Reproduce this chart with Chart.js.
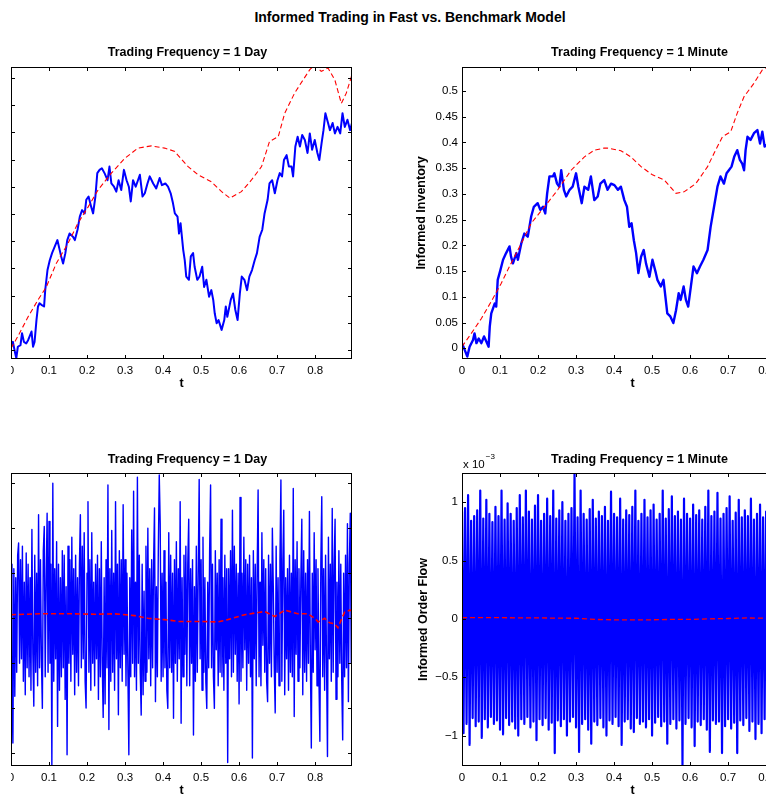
<!DOCTYPE html>
<html>
<head>
<meta charset="utf-8">
<script src="https://cdn.jsdelivr.net/npm/chart.js@4.4.1/dist/chart.umd.min.js"></script>
<style>
html, body { margin: 0; padding: 0; background: #fff; overflow: hidden; width: 766px; height: 797px; }
body { position: relative; font-family: "Liberation Sans", Arial, sans-serif; }
canvas { position: absolute; }
.clip { position: absolute; overflow: hidden; }
#mainTitle { position: absolute; left: 0; width: 820px; top: 9px; line-height: 16px; text-align: center; font-weight: bold; font-size: 14px; }
</style>
</head>
<body>
<div id="mainTitle">Informed Trading in Fast vs. Benchmark Model</div>
<div class="clip" style="left:11px; top:22px; width:420px; height:371px">
  <canvas id="invDayChart" width="416" height="371" style="left:-60px; top:0"></canvas>
</div>
<canvas id="invMinChart" width="416" height="371" style="left:402px; top:22px"></canvas>
<div class="clip" style="left:11px; top:428px; width:420px; height:372px">
  <canvas id="flowDayChart" width="416" height="372" style="left:-60px; top:0"></canvas>
</div>
<canvas id="flowMinChart" width="416" height="372" style="left:402px; top:428px"></canvas>
<script>
// tick labels
const tTicks = [0, 0.1, 0.2, 0.3, 0.4, 0.5, 0.6, 0.7, 0.8];
const invTicks = [0, 0.05, 0.1, 0.15, 0.2, 0.25, 0.3, 0.35, 0.4, 0.45, 0.5];
const flowTicks = [-1, -0.5, 0, 0.5, 1];
const dayFlowTicks = [-3, -2, -1, 0, 1, 2, 3];

// informed inventory, 1 day trading (fast model, blue)
const tInvDay = [
  0.000, 0.005, 0.011, 0.014, 0.018, 0.025, 0.029, 0.034, 0.040, 0.045,
  0.049, 0.054, 0.058, 0.062, 0.067, 0.071, 0.075, 0.080, 0.087, 0.090,
  0.096, 0.102, 0.108, 0.115, 0.122, 0.128, 0.132, 0.137, 0.143, 0.148,
  0.154, 0.163, 0.168, 0.175, 0.181, 0.187, 0.194, 0.198, 0.204, 0.211,
  0.216, 0.222, 0.227, 0.233, 0.239, 0.246, 0.254, 0.259, 0.264, 0.271,
  0.277, 0.283, 0.290, 0.297, 0.304, 0.310, 0.315, 0.321, 0.328, 0.334,
  0.339, 0.346, 0.352, 0.359, 0.365, 0.374, 0.382, 0.391, 0.397, 0.406,
  0.413, 0.420, 0.426, 0.431, 0.438, 0.442, 0.446, 0.453, 0.457, 0.461,
  0.468, 0.473, 0.479, 0.483, 0.490, 0.496, 0.503, 0.508, 0.514, 0.521,
  0.527, 0.532, 0.536, 0.541, 0.546, 0.554, 0.561, 0.565, 0.569, 0.578,
  0.584, 0.590, 0.596, 0.602, 0.607, 0.614, 0.621, 0.627, 0.634, 0.641,
  0.647, 0.654, 0.661, 0.667, 0.675, 0.680, 0.687, 0.694, 0.701, 0.707,
  0.713, 0.718, 0.725, 0.731, 0.738, 0.742, 0.748, 0.754, 0.760, 0.766,
  0.773, 0.780, 0.786, 0.792, 0.799, 0.806, 0.811, 0.817, 0.822, 0.827,
  0.834, 0.839, 0.846, 0.852, 0.859, 0.866, 0.872, 0.878, 0.885, 0.892,
  0.897
];
const invDay = [
  0.009, 0.015, -0.006, -0.015, 0.006, 0.009, 0.031, 0.015, 0.012, 0.018,
  0.025, 0.034, 0.006, 0.015, 0.055, 0.080, 0.086, 0.083, 0.080, 0.110,
  0.147, 0.165, 0.178, 0.190, 0.202, 0.184, 0.172, 0.159, 0.178, 0.202,
  0.214, 0.208, 0.202, 0.221, 0.245, 0.257, 0.251, 0.276, 0.282, 0.263,
  0.251, 0.282, 0.325, 0.331, 0.334, 0.325, 0.312, 0.337, 0.306, 0.300,
  0.291, 0.312, 0.294, 0.331, 0.312, 0.300, 0.273, 0.312, 0.300, 0.312,
  0.322, 0.282, 0.288, 0.306, 0.319, 0.306, 0.297, 0.316, 0.303, 0.306,
  0.300, 0.288, 0.270, 0.251, 0.245, 0.214, 0.233, 0.184, 0.165, 0.135,
  0.129, 0.172, 0.178, 0.153, 0.129, 0.135, 0.153, 0.116, 0.129, 0.098,
  0.110, 0.092, 0.067, 0.049, 0.055, 0.037, 0.055, 0.080, 0.061, 0.092,
  0.104, 0.074, 0.055, 0.104, 0.135, 0.129, 0.110, 0.135, 0.147, 0.165,
  0.178, 0.208, 0.221, 0.251, 0.276, 0.306, 0.312, 0.288, 0.312, 0.325,
  0.319, 0.349, 0.358, 0.337, 0.337, 0.319, 0.374, 0.392, 0.374, 0.395,
  0.386, 0.362, 0.398, 0.368, 0.386, 0.362, 0.349, 0.380, 0.404, 0.435,
  0.417, 0.404, 0.417, 0.398, 0.410, 0.398, 0.435, 0.410, 0.423, 0.404,
  0.417
];
// benchmark model, 1 day (red dashed)
const tBenchInvDay = [0, 0.018, 0.045, 0.071, 0.093, 0.119, 0.15, 0.176, 0.203, 0.229, 0.264, 0.299, 0.334, 0.369, 0.404, 0.431, 0.439, 0.466, 0.492, 0.527, 0.554, 0.576, 0.606, 0.632, 0.659, 0.68, 0.703, 0.72, 0.746, 0.768, 0.786, 0.799, 0.816, 0.834, 0.852, 0.869, 0.882, 0.897];
const benchInvDay = [0.003, 0.025, 0.061, 0.092, 0.116, 0.159, 0.196, 0.233, 0.263, 0.294, 0.325, 0.352, 0.371, 0.375, 0.371, 0.365, 0.358, 0.337, 0.322, 0.309, 0.291, 0.279, 0.291, 0.312, 0.337, 0.383, 0.392, 0.435, 0.472, 0.496, 0.515, 0.524, 0.512, 0.518, 0.496, 0.453, 0.472, 0.506];

// informed inventory, 1 minute trading
const tInvMin = [
  0, 0.007, 0.014, 0.020, 0.029, 0.033, 0.038, 0.044, 0.051, 0.058,
  0.064, 0.070, 0.073, 0.077, 0.086, 0.090, 0.094, 0.101, 0.108, 0.116,
  0.125, 0.129, 0.134, 0.143, 0.147, 0.156, 0.164, 0.173, 0.182, 0.189,
  0.199, 0.206, 0.213, 0.219, 0.224, 0.230, 0.239, 0.243, 0.250, 0.256,
  0.261, 0.268, 0.274, 0.283, 0.291, 0.300, 0.306, 0.315, 0.322, 0.332,
  0.339, 0.348, 0.357, 0.364, 0.374, 0.383, 0.392, 0.401, 0.410, 0.418,
  0.427, 0.434, 0.440, 0.446, 0.452, 0.458, 0.464, 0.471, 0.478, 0.484,
  0.493, 0.501, 0.510, 0.514, 0.523, 0.530, 0.536, 0.540, 0.548, 0.556,
  0.563, 0.570, 0.575, 0.583, 0.589, 0.595, 0.602, 0.609, 0.618, 0.626,
  0.635, 0.646, 0.654, 0.663, 0.672, 0.680, 0.689, 0.696, 0.702, 0.709,
  0.716, 0.724, 0.731, 0.737, 0.742, 0.746, 0.751, 0.759, 0.768, 0.777,
  0.784, 0.790, 0.796, 0.81, 0.83, 0.85, 0.87, 0.89
];
const invMin = [
  0.010, -0.003, -0.016, 0.003, 0.016, 0.029, 0.010, 0.019, 0.010, 0.023,
  0.013, 0.003, 0.042, 0.068, 0.087, 0.081, 0.133, 0.152, 0.172, 0.185,
  0.198, 0.178, 0.165, 0.185, 0.172, 0.204, 0.223, 0.217, 0.256, 0.275,
  0.282, 0.269, 0.275, 0.262, 0.301, 0.334, 0.334, 0.340, 0.320, 0.314,
  0.346, 0.308, 0.295, 0.308, 0.314, 0.340, 0.314, 0.282, 0.314, 0.308,
  0.334, 0.288, 0.295, 0.320, 0.327, 0.308, 0.320, 0.317, 0.308, 0.314,
  0.288, 0.275, 0.236, 0.243, 0.210, 0.185, 0.146, 0.178, 0.191, 0.165,
  0.139, 0.172, 0.146, 0.133, 0.120, 0.133, 0.094, 0.068, 0.062, 0.049,
  0.074, 0.107, 0.094, 0.120, 0.094, 0.081, 0.120, 0.159, 0.146, 0.159,
  0.172, 0.191, 0.236, 0.275, 0.314, 0.334, 0.320, 0.340, 0.346, 0.353,
  0.372, 0.385, 0.366, 0.359, 0.346, 0.385, 0.411, 0.405, 0.418, 0.424,
  0.398, 0.421, 0.392, 0.40, 0.44, 0.42, 0.45, 0.43
];
const tBenchInvMin = [0, 0.0245, 0.051, 0.077, 0.103, 0.129, 0.156, 0.182, 0.217, 0.252, 0.287, 0.322, 0.348, 0.374, 0.383, 0.418, 0.444, 0.471, 0.501, 0.532, 0.563, 0.584, 0.615, 0.646, 0.663, 0.685, 0.707, 0.724, 0.742, 0.768, 0.79, 0.81, 0.84, 0.87, 0.897];
const benchInvMin = [0.003, 0.029, 0.058, 0.091, 0.126, 0.165, 0.204, 0.243, 0.275, 0.308, 0.346, 0.372, 0.385, 0.389, 0.389, 0.384, 0.372, 0.353, 0.337, 0.327, 0.301, 0.304, 0.32, 0.353, 0.379, 0.411, 0.421, 0.457, 0.489, 0.515, 0.541, 0.55, 0.53, 0.49, 0.53];

// informed order flow, 1 day trading, read at ~1 px steps
const dtDay = 0.0025;
const flowDay = [
  1.2, -1.5, -2.77, 1.1, -1.73, 0.9, -1.2, 1.4, 1.67, -1.0,
  1.3, -0.9, 1.6, -1.4, 0.8, -1.7, 1.45, -1.1, 1.2, -1.3,
  0.9, -1.6, 1.97, -0.8, -1.95, 1.4, -1.2, 1.0, -1.5, 2.3,
  -1.1, 1.3, -0.9, -2.0, 1.5, 2.04, -1.3, 0.8, 2.33, -1.2,
  2.15, -1.0, 1.2, -3.28, 3.0, -1.4, 1.1, -0.9, 1.7, -2.4,
  1.2, -1.6, 0.9, -1.3, 1.5, -1.1, 1.4, -1.8, 0.7, -3.03,
  1.6, -1.0, 1.3, -1.4, 1.8, -0.8, 1.1, -1.7, 1.4, -1.2,
  0.9, -1.5, 1.2, 2.3, -1.1, 1.6, -0.9, 1.9, -1.4, -1.99,
  1.0, 2.59, -1.2, 1.3, -1.6, 1.9, -1.0, 0.8, -1.5, 1.2,
  -0.9, 1.4, -1.8, 1.1, -1.3, 1.7, -1.0, -2.2, 0.9, -1.9,
  1.3, -1.1, 2.96, -2.47, 1.1, -1.4, 1.95, -1.2, 1.0, -1.6,
  2.59, -0.9, 1.2, -2.14, 1.5, -1.1, 1.3, -1.4, 2.52, -0.8,
  1.3, -1.5, 1.0, -1.2, -3.03, 0.9, -1.3, 1.96, -1.0, 2.82,
  -1.3, 0.8, -1.6, 3.13, -1.0, 1.4, -1.2, -2.15, 1.2, -1.7,
  0.6, -1.4, 1.6, -1.2, 2.0, -0.9, 1.1, -1.5, 1.3, -1.1,
  1.2, 2.45, -1.85, 0.7, -1.3, 1.5, 3.18, 2.1, -1.4, 1.0,
  -1.3, 1.5, -1.1, 0.8, -1.6, -2.0, 1.9, -1.1, 1.4, -1.2,
  1.0, -2.22, 1.3, -1.0, 1.7, -1.4, 1.1, -0.9, 2.59, -2.33,
  0.9, -1.3, 1.4, -0.8, 1.6, -1.5, 1.2, 2.2, -1.5, 1.1,
  -1.0, 1.3, -2.59, 0.7, -1.4, 1.6, -1.2, 1.0, 3.08, -0.9,
  1.3, -1.6, 1.8, -1.2, 0.9, -1.4, -2.0, 0.8, -1.1, 1.5,
  2.96, -1.1, 1.2, -1.3, -2.0, 1.5, -0.7, 1.0, -1.5, 1.3,
  -1.2, 2.2, -1.3, 0.9, -1.6, 1.4, -1.0, 1.1, -3.2, 1.1,
  -0.9, 1.5, -1.3, 2.4, -1.2, 1.6, -0.8, 1.2, -1.4, 1.0,
  -1.9, 2.68, -1.4, 1.0, -1.1, 1.8, -0.7, 1.3, -1.6, 1.2,
  -1.0, 1.4, -1.3, 0.9, -3.1, 1.5, -0.9, 1.2, -1.5, 1.0,
  2.85, -1.3, 0.8, -1.5, 1.9, -0.6, 1.3, -1.2, 1.1, -1.4,
  -1.85, 1.4, -1.0, 1.2, -1.3, 2.0, 0.7, -1.1, -2.1, 1.6,
  -1.2, 0.9, -1.5, 1.3, 3.07, -1.4, 1.2, 2.4, -1.7, 0.9,
  -0.9, 1.1, -1.6, 1.4, -1.2, 1.0, -1.3, 2.88, -2.18, 1.3,
  -0.8, 1.7, -1.4, 1.1, -1.1, 0.9, 2.2, -1.7, 1.5, -1.2,
  1.0, -1.4, 1.3, -1.0, 2.37, -0.9, -2.88, 1.0, -1.2, 1.9,
  -0.7, 1.3, -1.5, 1.1, -1.3, -2.73, 1.2, 2.7, -1.3, 1.1,
  -1.6, 1.4, -1.0, -3.07, 1.8, -0.9, 1.2, -1.4, 2.44, -1.2,
  1.2, 2.2, -1.8, 0.8, -1.3, 1.5, -1.0, 1.2, -1.4, -2.7,
  1.0, -1.3, 1.4, -1.1, 2.1, -1.85, 1.2, 2.33, -1.0, 1.8, -1.2
];
const tBenchFlowDay = [0, 0.079, 0.154, 0.22, 0.272, 0.325, 0.36, 0.404, 0.44, 0.49, 0.545, 0.57, 0.615, 0.667, 0.694, 0.72, 0.755, 0.781, 0.799, 0.808, 0.825, 0.838, 0.851, 0.86, 0.869, 0.878, 0.891, 0.897];
const benchFlowDay = [0.08, 0.1, 0.1, 0.09, 0.1, 0.06, 0.0, -0.03, -0.07, -0.07, -0.08, -0.03, 0.08, 0.15, 0.04, 0.18, 0.1, 0.1, 0.0, -0.08, 0.0, -0.1, -0.12, -0.21, -0.03, 0.14, 0.18, 0.17];

// informed order flow, 1 minute trading (x 1e-3): spike tops and bottoms
const dtMin = 0.004;
const flowMinUpper = [
  0.92, 0.95, 1.06, 0.84, 0.88, 0.93, 1.1, 0.86, 1.02, 0.9,
  0.83, 0.96, 0.88, 1.1, 0.85, 0.99, 0.9, 0.84, 0.95, 1.06,
  0.87, 1.1, 0.92, 0.85, 0.97, 1.06, 0.84, 0.9, 1.03, 0.88,
  1.1, 0.86, 0.93, 1.0, 0.84, 0.9, 0.95, 1.25, 0.87, 1.1,
  0.9, 0.85, 0.94, 1.02, 0.86, 0.92, 0.88, 0.96, 0.84, 1.09,
  0.9, 0.87, 1.03, 0.85, 0.93, 0.89, 0.96, 1.1, 0.84, 0.9,
  1.02, 0.87, 0.93, 0.98, 0.85, 0.9, 1.1, 0.86, 0.94, 1.05,
  0.88, 0.92, 0.85, 1.03, 0.9, 0.86, 0.98, 0.89, 0.93, 0.85,
  0.96, 1.1, 0.88, 0.92, 1.08, 0.86, 0.9, 0.95, 1.05, 0.84,
  0.91, 1.02, 0.87, 0.93, 0.88, 1.03, 0.85, 0.9, 0.98, 0.87,
  0.92, 0.89, 0.95
];
const flowMinLower = [
  -0.98, -0.9, -1.08, -0.85, -0.92, -0.88, -1.02, -0.86, -0.93, -0.84,
  -0.9, -0.87, -0.95, -0.99, -0.85, -0.91, -0.88, -0.94, -1.0, -0.86,
  -0.9, -0.84, -0.93, -0.88, -1.04, -0.86, -0.91, -0.85, -0.95, -0.89,
  -1.15, -0.87, -0.92, -0.86, -1.0, -0.88, -0.84, -0.93, -1.14, -0.9,
  -0.86, -0.95, -1.07, -0.88, -0.91, -0.85, -0.93, -1.0, -0.87, -0.9,
  -0.84, -0.92, -1.08, -0.88, -0.86, -0.94, -0.97, -0.85, -0.9, -0.88,
  -0.93, -0.86, -1.0, -0.89, -0.84, -0.92, -0.88, -1.07, -0.9, -0.86,
  -0.94, -0.87, -1.25, -0.9, -0.85, -0.93, -1.09, -0.88, -0.91, -0.86,
  -0.95, -1.14, -0.87, -0.9, -0.88, -1.15, -0.92, -0.86, -0.94, -0.89,
  -1.15, -0.87, -0.91, -0.85, -0.96, -0.88, -1.03, -0.9, -0.98, -0.86,
  -0.92, -0.88, -0.9
];
const tBenchFlowMin = [0, 0.1, 0.2, 0.3, 0.35, 0.4, 0.5, 0.55, 0.6, 0.65, 0.7, 0.75, 0.8, 0.897];
const benchFlowMin = [0.01, 0.01, 0.008, 0.005, -0.005, -0.008, -0.008, -0.005, -0.005, 0.0, 0.003, 0.008, 0.005, 0.005];

function pairs(xs, ys) { return ys.map((v, i) => ({ x: xs[i], y: v })); }
function stepped(ys, dt) { return ys.map((v, i) => ({ x: i * dt, y: v })); }
function zigzag(up, lo, dt) {
  const out = [];
  up.forEach((v, k) => {
    out.push({ x: 2 * k * dt, y: v });
    out.push({ x: (2 * k + 1) * dt, y: lo[k] });
  });
  return out;
}
function fmt(v) { return String(Math.round(v * 1000) / 1000).replace('-', '\u2212'); }

Chart.defaults.font.family = '"Liberation Sans", Arial, sans-serif';
Chart.defaults.color = '#000';

// box with inward tick marks on all four sides, like matlab
const frameTicks = {
  id: 'frameTicks',
  afterDatasetsDraw(chart) {
    const { ctx, chartArea: a, scales: { x, y } } = chart;
    const len = 4;
    ctx.save();
    ctx.strokeStyle = '#000';
    ctx.lineWidth = 1;
    ctx.beginPath();
    x.ticks.forEach(t => {
      const px = Math.round(x.getPixelForValue(t.value)) + 0.5;
      ctx.moveTo(px, a.bottom); ctx.lineTo(px, a.bottom - len);
      ctx.moveTo(px, a.top); ctx.lineTo(px, a.top + len);
    });
    y.ticks.forEach(t => {
      const py = Math.round(y.getPixelForValue(t.value)) + 0.5;
      ctx.moveTo(a.left, py); ctx.lineTo(a.left + len, py);
      ctx.moveTo(a.right, py); ctx.lineTo(a.right - len, py);
    });
    ctx.stroke();
    ctx.strokeRect(Math.round(a.left) + 0.5, Math.round(a.top) + 0.5, Math.round(a.width) - 1, Math.round(a.height) - 1);
    ctx.restore();
  }
};

const subTitle = {
  id: 'subTitle',
  afterDraw(chart, args, opts) {
    const { ctx, chartArea: a } = chart;
    ctx.save();
    ctx.fillStyle = '#000';
    ctx.font = 'bold 12.5px "Liberation Sans", Arial, sans-serif';
    ctx.textAlign = 'center';
    ctx.textBaseline = 'middle';
    ctx.fillText(opts.text, (a.left + a.right) / 2 + opts.dx, a.top - opts.dy);
    if (opts.exponent) {
      ctx.textAlign = 'left';
      ctx.textBaseline = 'alphabetic';
      ctx.font = '11.5px "Liberation Sans", Arial, sans-serif';
      ctx.fillText('x 10', a.left + 1, a.top - 5);
      const w = ctx.measureText('x 10').width;
      ctx.font = '8px "Liberation Sans", Arial, sans-serif';
      ctx.fillText(opts.exponent, a.left + 2 + w, a.top - 14);
    }
    ctx.restore();
  }
};

function makeChart(id, o) {
  return new Chart(document.getElementById(id), {
    type: 'line',
    data: {
      datasets: [
        { data: o.bench, borderColor: '#ff0000', borderWidth: o.benchWidth, borderDash: [5, 3], pointRadius: 0, order: 0 },
        { data: o.fast, borderColor: '#0000ff', borderWidth: o.fastWidth, borderJoinStyle: 'round', pointRadius: 0, order: 1 }
      ]
    },
    options: {
      responsive: false,
      animation: false,
      devicePixelRatio: 1,
      layout: { padding: { top: 45, right: 15, left: 0, bottom: 0 } },
      plugins: {
        legend: { display: false },
        tooltip: { enabled: false },
        subTitle: { text: o.title, dx: o.dx, dy: o.dy, exponent: o.exponent }
      },
      scales: {
        x: {
          type: 'linear', min: 0, max: 0.897,
          afterBuildTicks: s => { s.ticks = tTicks.map(v => ({ value: v })); },
          afterFit: s => { s.height = 34; },
          grid: { display: false, drawTicks: false },
          border: { display: false },
          ticks: { padding: 5, autoSkip: false, maxRotation: 0, font: { size: 11.5 }, callback: v => fmt(v) },
          title: { display: true, text: 't', font: { size: 12.5, weight: 'bold' }, padding: { top: 0, bottom: o.tPad } }
        },
        y: {
          type: 'linear', min: o.yMin, max: o.yMax,
          afterBuildTicks: s => { s.ticks = o.yTicks.map(v => ({ value: v })); },
          afterFit: s => { s.width = 60; },
          grid: { display: false, drawTicks: false },
          border: { display: false },
          ticks: { padding: 4, font: { size: 11.5 }, callback: v => fmt(v) },
          title: { display: !!o.yTitle, text: o.yTitle || '', font: { size: 12.5, weight: 'bold' }, padding: { top: o.yTitlePad || 12, bottom: 0 } }
        }
      }
    },
    plugins: [frameTicks, subTitle]
  });
}

makeChart('invDayChart', {
  fast: pairs(tInvDay, invDay), bench: pairs(tBenchInvDay, benchInvDay),
  fastWidth: 2, benchWidth: 1.1,
  yMin: -0.0165, yMax: 0.52, yTicks: invTicks,
  title: 'Trading Frequency = 1 Day', dx: 6, dy: 14.5, tPad: 2
});
makeChart('invMinChart', {
  fast: pairs(tInvMin, invMin), bench: pairs(tBenchInvMin, benchInvMin),
  fastWidth: 2.4, benchWidth: 1.1,
  yMin: -0.0208, yMax: 0.5466, yTicks: invTicks, yTitle: 'Informed Inventory', yTitlePad: 12,
  title: 'Trading Frequency = 1 Minute', dx: 7, dy: 14.5, tPad: 2
});
makeChart('flowDayChart', {
  fast: stepped(flowDay, dtDay), bench: pairs(tBenchFlowDay, benchFlowDay),
  fastWidth: 1.4, benchWidth: 1.6,
  yMin: -3.279, yMax: 3.225, yTicks: dayFlowTicks,
  title: 'Trading Frequency = 1 Day', dx: 6, dy: 13, tPad: 1.5
});
makeChart('flowMinChart', {
  fast: zigzag(flowMinUpper, flowMinLower, dtMin), bench: pairs(tBenchFlowMin, benchFlowMin),
  fastWidth: 2.2, benchWidth: 1.3,
  yMin: -1.261, yMax: 1.25, yTicks: flowTicks, yTitle: 'Informed Order Flow', yTitlePad: 14,
  title: 'Trading Frequency = 1 Minute', dx: 7, dy: 13, tPad: 1.5, exponent: '\u22123'
});
</script>
</body>
</html>
